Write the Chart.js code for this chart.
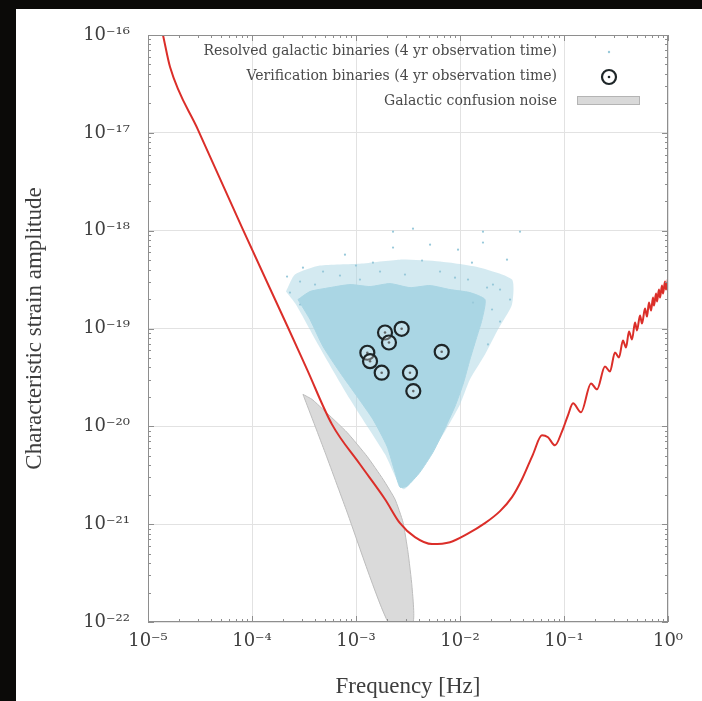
<!DOCTYPE html>
<html>
<head>
<meta charset="utf-8">
<script src="https://cdn.jsdelivr.net/npm/chart.js@4.4.1/dist/chart.umd.min.js"></script>
<style>
  html, body { margin: 0; padding: 0; background: #0b0a08; }
  #panel { position: absolute; left: 16px; top: 9px; right: 0; bottom: 0; background: #fff; }
  canvas { position: absolute; left: 0; top: 0; }
</style>
</head>
<body>
<div id="panel"></div>
<canvas id="chart" width="702" height="701"></canvas>
<script>
// axis ticks (decades)
const xTickExps = [-5, -4, -3, -2, -1, 0];
const xTickLabels = ['10⁻⁵', '10⁻⁴', '10⁻³', '10⁻²', '10⁻¹', '10⁰'];
const yTickExps = [-22, -21, -20, -19, -18, -17, -16];
const yTickLabels = ['10⁻²²', '10⁻²¹', '10⁻²⁰', '10⁻¹⁹', '10⁻¹⁸', '10⁻¹⁷', '10⁻¹⁶'];

// sensitivity curve, log10(f) / log10(h)
const sensLogF = [-4.9, -4.856, -4.788, -4.519, -4.087, -3.654, -3.471, -3.231, -2.962, -2.721, -2.577, -2.433, -2.269, -2.096, -1.933, -1.760, -1.615, -1.500, -1.404, -1.298, -1.212, -1.154, -1.087, -1.019, -0.962, -0.913, -0.837, -0.740, -0.683, -0.606, -0.558, -0.510, -0.471, -0.433, -0.404, -0.375, -0.346, -0.317, -0.298, -0.269, -0.250, -0.221, -0.202, -0.183, -0.163, -0.144, -0.135, -0.115, -0.106, -0.087, -0.077, -0.058, -0.048, -0.029, -0.019, 0.000];
const sensLogH = [-15.8, -16.000, -16.327, -16.969, -17.990, -18.990, -19.418, -19.980, -20.388, -20.745, -20.990, -21.133, -21.204, -21.184, -21.102, -20.990, -20.867, -20.724, -20.541, -20.286, -20.092, -20.112, -20.194, -20.051, -19.888, -19.765, -19.857, -19.561, -19.622, -19.388, -19.439, -19.245, -19.296, -19.122, -19.194, -19.031, -19.112, -18.939, -19.020, -18.867, -18.949, -18.796, -18.878, -18.735, -18.816, -18.684, -18.765, -18.643, -18.724, -18.602, -18.684, -18.561, -18.643, -18.520, -18.602, -18.490];

// verification binaries
const verifLogF = [-2.561, -2.721, -2.683, -2.891, -2.865, -2.753, -2.176, -2.481, -2.449];
const verifLogH = [-19.003, -19.041, -19.143, -19.248, -19.334, -19.452, -19.238, -19.452, -19.640];

// galactic confusion noise outline
const noiseLogF = [-3.510, -3.423, -3.317, -3.087, -2.894, -2.740, -2.625, -2.548, -2.500, -2.462, -2.452, -2.692, -3.096, -3.298, -3.510];
const noiseLogH = [-19.673, -19.724, -19.827, -20.061, -20.306, -20.541, -20.745, -20.980, -21.286, -21.633, -22.0, -22.0, -20.847, -20.265, -19.673];

// resolved binaries: dense core outline, thinner halo outline, stray points
const coreLogF = [-3.558, -3.442, -3.250, -3.058, -2.865, -2.673, -2.481, -2.288, -2.096, -1.904, -1.760, -1.788, -1.846, -1.904, -1.971, -2.048, -2.163, -2.260, -2.385, -2.510, -2.577, -2.625, -2.702, -2.837, -2.990, -3.154, -3.317, -3.442, -3.558];
const coreLogH = [-18.704, -18.622, -18.582, -18.551, -18.571, -18.541, -18.582, -18.561, -18.602, -18.633, -18.704, -18.908, -19.112, -19.316, -19.571, -19.796, -20.061, -20.265, -20.469, -20.612, -20.622, -20.469, -20.204, -19.929, -19.694, -19.449, -19.184, -18.908, -18.704];
const haloLogF = [-3.673, -3.587, -3.346, -2.962, -2.577, -2.192, -1.808, -1.500, -1.500, -1.635, -1.760, -1.904, -2.000, -2.192, -2.538, -2.721, -3.058, -3.365, -3.577, -3.673];
const haloLogH = [-18.622, -18.449, -18.357, -18.337, -18.296, -18.316, -18.378, -18.500, -18.755, -19.010, -19.265, -19.520, -19.776, -20.133, -20.643, -20.286, -19.724, -19.163, -18.755, -18.622];
const strayLogF = [-2.644, -2.452, -1.779, -1.423, -1.779, -2.644, -2.019, -2.365, -1.548, -1.885, -2.837, -3.000, -3.510, -3.317, -2.192, -1.683, -1.740, -3.635, -1.875, -1.692, -3.663, -1.519, -1.615, -1.731, -3.106, -3.394, -2.288, -3.538, -3.538, -3.154, -2.769, -2.529, -2.048, -1.615, -1.923, -2.962];
const strayLogH = [-18.010, -17.980, -18.010, -18.010, -18.122, -18.173, -18.194, -18.306, -18.296, -18.327, -18.327, -18.357, -18.378, -18.418, -18.418, -18.551, -18.582, -18.633, -18.735, -18.806, -18.469, -18.704, -18.929, -19.163, -18.245, -18.551, -18.143, -18.755, -18.520, -18.459, -18.418, -18.449, -18.480, -18.602, -18.500, -18.500];

const pts = (lf, lh) => lf.map((v, i) => ({ x: Math.pow(10, v), y: Math.pow(10, lh[i]) }));

const serif = 'DejaVu Serif';
const textColor = '#3e3e3e';
const blue = '#aad6e4';
const ring = '#1e2628';

// border box with minor ticks on all four sides
const frame = {
  id: 'frame',
  afterDatasetsDraw(chart) {
    const { ctx, chartArea: a, scales: { x, y } } = chart;
    ctx.save();
    ctx.strokeStyle = '#8e8e8e';
    ctx.lineWidth = 1;
    ctx.strokeRect(a.left + 0.5, a.top + 0.5, a.right - a.left - 1, a.bottom - a.top - 1);
    ctx.beginPath();
    xTickExps.forEach(e => {
      for (let k = 1; k < 10; k++) {
        if (e === 0 && k > 1) break;
        const px = Math.round(x.getPixelForValue(k * Math.pow(10, e))) + 0.5;
        const len = k === 1 ? 6 : 3;
        ctx.moveTo(px, a.bottom); ctx.lineTo(px, a.bottom - len);
        ctx.moveTo(px, a.top); ctx.lineTo(px, a.top + len);
      }
    });
    yTickExps.forEach(e => {
      for (let k = 1; k < 10; k++) {
        if (e === -16 && k > 1) break;
        const py = Math.round(y.getPixelForValue(k * Math.pow(10, e))) + 0.5;
        const len = k === 1 ? 6 : 3;
        ctx.moveTo(a.left, py); ctx.lineTo(a.left + len, py);
        ctx.moveTo(a.right, py); ctx.lineTo(a.right - len, py);
      }
    });
    ctx.stroke();
    ctx.restore();
  }
};

// legend box, top right inside the plot
const legendBox = {
  id: 'legendBox',
  afterDraw(chart) {
    const { ctx } = chart;
    ctx.save();
    ctx.font = '14px "' + serif + '"';
    ctx.fillStyle = '#4a4a4a';
    ctx.textAlign = 'right';
    ctx.textBaseline = 'middle';
    ctx.fillText('Resolved galactic binaries (4 yr observation time)', 557, 51);
    ctx.fillText('Verification binaries (4 yr observation time)', 557, 76);
    ctx.fillText('Galactic confusion noise', 557, 101);
    ctx.fillStyle = '#98c9da';
    ctx.beginPath(); ctx.arc(609, 52, 1.2, 0, Math.PI * 2); ctx.fill();
    ctx.strokeStyle = ring;
    ctx.lineWidth = 2.2;
    ctx.beginPath(); ctx.arc(609, 77, 7, 0, Math.PI * 2); ctx.stroke();
    ctx.fillStyle = ring;
    ctx.beginPath(); ctx.arc(609, 77, 1.3, 0, Math.PI * 2); ctx.fill();
    ctx.fillStyle = '#d9d9d9';
    ctx.fillRect(577, 96, 63, 9);
    ctx.strokeStyle = '#b4b4b4';
    ctx.lineWidth = 1;
    ctx.strokeRect(577.5, 96.5, 62, 8);
    ctx.restore();
  }
};

new Chart(document.getElementById('chart'), {
  type: 'scatter',
  data: {
    datasets: [
      {
        label: 'LISA sensitivity',
        data: pts(sensLogF, sensLogH),
        showLine: true,
        borderColor: '#db2e29',
        borderWidth: 2,
        pointRadius: 0,
        cubicInterpolationMode: 'monotone',
        order: 0
      },
      {
        label: 'Verification binaries (4 yr observation time)',
        data: pts(verifLogF, verifLogH),
        pointRadius: 7,
        borderWidth: 2.2,
        borderColor: ring,
        backgroundColor: 'rgba(255,255,255,0.3)',
        order: 1
      },
      {
        label: 'verification centres',
        data: pts(verifLogF, verifLogH),
        pointRadius: 1.3,
        borderWidth: 0,
        backgroundColor: ring,
        order: 2
      },
      {
        label: 'stray resolved binaries',
        data: pts(strayLogF, strayLogH),
        pointRadius: 1.1,
        borderWidth: 0,
        backgroundColor: '#98c9da',
        order: 3
      },
      {
        label: 'Resolved galactic binaries (4 yr observation time)',
        data: pts(coreLogF, coreLogH),
        showLine: true,
        fill: 'shape',
        tension: 0.2,
        borderWidth: 1,
        borderColor: blue,
        backgroundColor: blue,
        pointRadius: 0,
        order: 4
      },
      {
        label: 'resolved halo',
        data: pts(haloLogF, haloLogH),
        showLine: true,
        fill: 'shape',
        tension: 0.2,
        borderWidth: 0,
        backgroundColor: 'rgba(170,214,228,0.5)',
        pointRadius: 0,
        order: 5
      },
      {
        label: 'Galactic confusion noise',
        data: pts(noiseLogF, noiseLogH),
        showLine: true,
        fill: 'shape',
        tension: 0.15,
        borderWidth: 1,
        borderColor: '#bdbdbd',
        backgroundColor: '#dadada',
        pointRadius: 0,
        order: 6
      }
    ]
  },
  options: {
    responsive: false,
    animation: false,
    events: [],
    layout: { padding: { left: 0, top: 35, right: 34, bottom: 0 } },
    plugins: { legend: { display: false }, tooltip: { enabled: false } },
    scales: {
      x: {
        type: 'logarithmic',
        min: 1e-5,
        max: 1,
        afterBuildTicks: s => { s.ticks = xTickExps.map(e => ({ value: Math.pow(10, e) })); },
        afterFit: s => { s.height = 79; },
        ticks: {
          callback: (v, i) => xTickLabels[i],
          font: { family: serif, size: 18 },
          color: textColor,
          padding: 9,
          maxRotation: 0,
          autoSkip: false
        },
        grid: { color: '#e2e2e2', drawTicks: false },
        border: { display: false },
        title: {
          display: true,
          text: 'Frequency [Hz]',
          font: { family: 'Liberation Serif', size: 23 },
          color: textColor,
          padding: { top: 0, bottom: 0 }
        }
      },
      y: {
        type: 'logarithmic',
        min: 1e-22,
        max: 1e-16,
        afterBuildTicks: s => { s.ticks = yTickExps.map(e => ({ value: Math.pow(10, e) })); },
        afterFit: s => { s.width = 148; },
        ticks: {
          callback: (v, i) => yTickLabels[i],
          font: { family: serif, size: 18 },
          color: textColor,
          padding: 18,
          autoSkip: false
        },
        grid: { color: '#e2e2e2', drawTicks: false },
        border: { display: false },
        title: {
          display: true,
          text: 'Characteristic strain amplitude',
          font: { family: 'Liberation Serif', size: 23 },
          color: textColor,
          padding: { top: 21, bottom: 0 }
        }
      }
    }
  },
  plugins: [frame, legendBox]
});
</script>
</body>
</html>
